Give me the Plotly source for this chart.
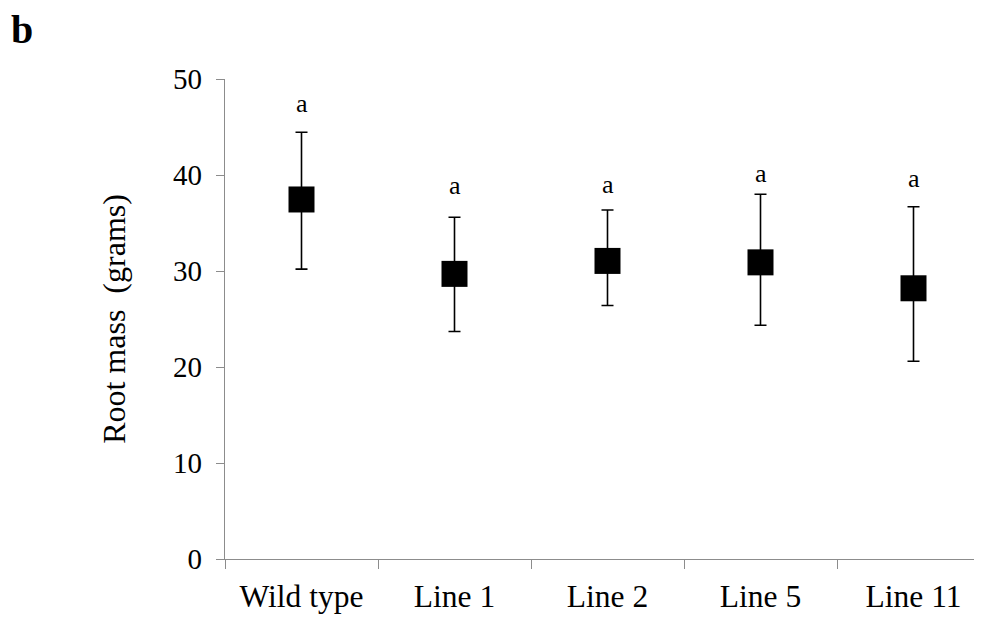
import plotly.graph_objects as go

categories = ["Wild type", "Line 1", "Line 2", "Line 5", "Line 11"]
mean_mass = [37.45, 29.7, 31.05, 30.9, 28.2]
upper_mass = [44.45, 35.6, 36.35, 38.0, 36.7]
lower_mass = [30.2, 23.7, 26.4, 24.35, 20.6]
group_letters = ["a", "a", "a", "a", "a"]
letter_y = [47.5, 38.9, 39.0, 40.2, 39.6]
y_ticks = [0, 10, 20, 30, 40, 50]

err_plus = [u - m for u, m in zip(upper_mass, mean_mass)]
err_minus = [m - l for m, l in zip(mean_mass, lower_mass)]

FONT = "Liberation Serif, Times New Roman, serif"
AXIS_COLOR = "#8c8c8c"

fig = go.Figure()
fig.add_trace(go.Scatter(
    x=categories, y=mean_mass, mode="markers",
    marker=dict(symbol="square", size=26, color="black"),
    error_y=dict(type="data", symmetric=False, array=err_plus, arrayminus=err_minus,
                 color="black", thickness=1.6, width=6),
    showlegend=False,
))

for c, t, ly in zip(categories, group_letters, letter_y):
    fig.add_annotation(x=c, y=ly, text=t, showarrow=False,
                       font=dict(family=FONT, size=26, color="black"))

fig.add_annotation(xref="paper", yref="paper", x=-0.283, y=1.103, xanchor="left", yanchor="middle",
                   text="<b>b</b>", showarrow=False,
                   font=dict(family=FONT, size=40, color="black"))

fig.update_layout(
    width=982, height=617,
    margin=dict(l=217, r=0, t=71, b=66),
    paper_bgcolor="white", plot_bgcolor="white",
    font=dict(family=FONT, size=30, color="black"),
    xaxis=dict(type="category", range=[-0.5, 4.5], tickson="boundaries",
               ticks="outside", ticklen=9, tickcolor=AXIS_COLOR, tickwidth=1.3,
               showline=True, linecolor=AXIS_COLOR, linewidth=1.3,
               showgrid=False, zeroline=False, ticklabelstandoff=9,
               tickfont=dict(family=FONT, size=31.5, color="black")),
    yaxis=dict(range=[0, 50], tickvals=y_ticks, ticks="outside", ticklen=8,
               tickcolor=AXIS_COLOR, tickwidth=1.3,
               showline=True, linecolor=AXIS_COLOR, linewidth=1.3,
               showgrid=False, zeroline=False, ticklabelstandoff=8,
               tickfont=dict(family=FONT, size=29, color="black"),
               title=dict(text="Root mass  (grams)", standoff=37,
                          font=dict(family=FONT, size=32, color="black"))),
)

fig.write_html("out.html")
